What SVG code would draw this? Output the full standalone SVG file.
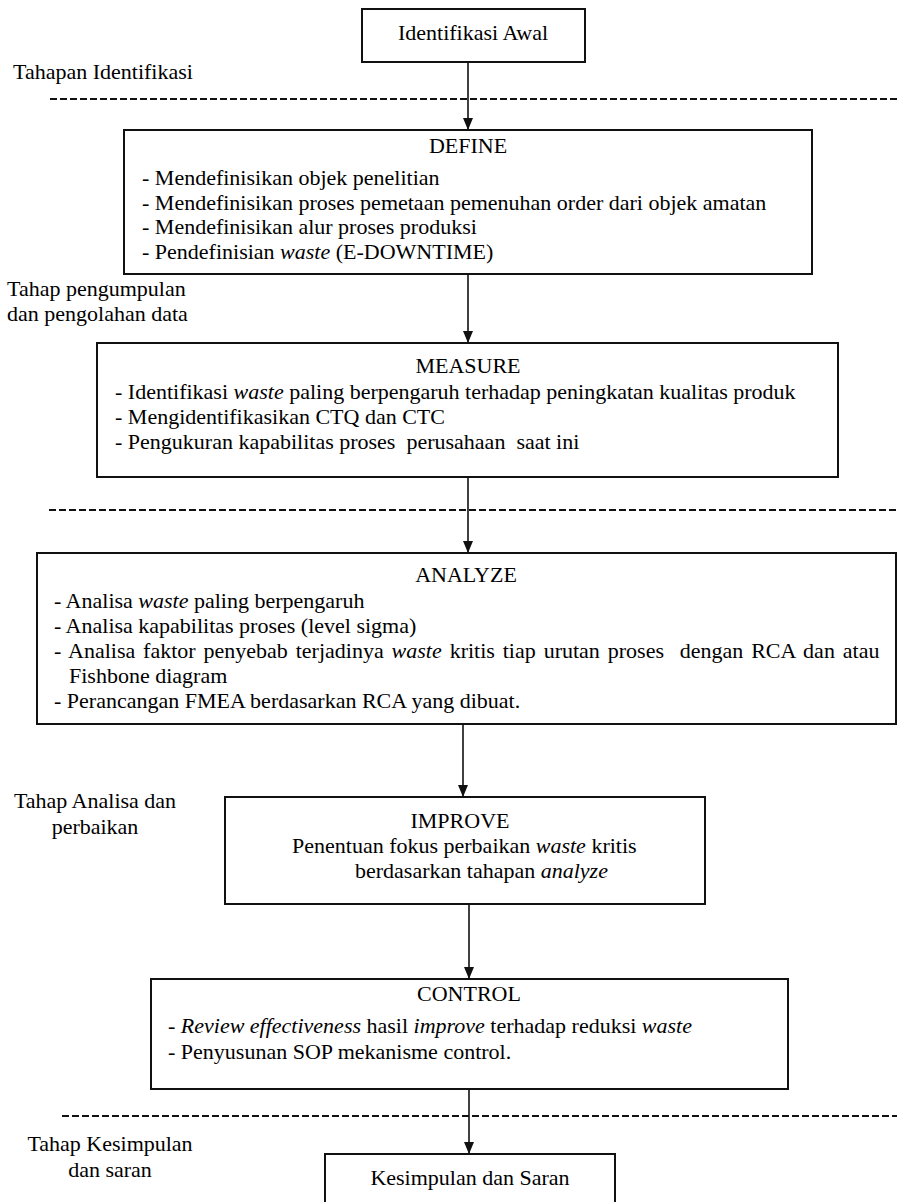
<svg xmlns="http://www.w3.org/2000/svg" width="897" height="1202" viewBox="0 0 897 1202">
<style>
text{font-family:"Liberation Serif","Times New Roman",serif;font-size:22px;fill:#000}
.box{fill:#fff;stroke:#111;stroke-width:2}
.dash{stroke:#111;stroke-width:2;stroke-dasharray:7 3;fill:none}
.conn{stroke:#111;stroke-width:1.6;fill:none;marker-end:url(#arr)}
.mid{text-anchor:middle}
.i{font-style:italic}
</style>
<defs>
<marker id="arr" viewBox="0 0 12 10" refX="12" refY="5" markerWidth="12" markerHeight="10" markerUnits="userSpaceOnUse" orient="auto">
<path d="M0,0 L12,5 L0,10 z" fill="#111"/>
</marker>
</defs>
<g id="separators">
<line class="dash" x1="50" y1="99" x2="897" y2="99"/>
<line class="dash" x1="49" y1="510" x2="897" y2="510"/>
<line class="dash" x1="62" y1="1116" x2="897" y2="1116"/>
</g>
<g id="stage-labels">
<text x="13" y="79">Tahapan Identifikasi</text>
<text x="7" y="296">Tahap pengumpulan</text>
<text x="7" y="321">dan pengolahan data</text>
<text class="mid" x="95" y="808">Tahap Analisa dan</text>
<text class="mid" x="95" y="834">perbaikan</text>
<text class="mid" x="110" y="1151">Tahap Kesimpulan</text>
<text class="mid" x="110" y="1177">dan saran</text>
</g>
<g id="connectors">
<line class="conn" x1="468" y1="62" x2="468" y2="130"/>
<line class="conn" x1="468" y1="274" x2="468" y2="343"/>
<line class="conn" x1="468" y1="477" x2="468" y2="553"/>
<line class="conn" x1="463" y1="724" x2="463" y2="797"/>
<line class="conn" x1="469" y1="904" x2="469" y2="979"/>
<line class="conn" x1="469" y1="1089" x2="469" y2="1154"/>
</g>
<g id="node-awal">
<rect class="box" x="362" y="9" width="223" height="53"/>
<text class="mid" x="473" y="40">Identifikasi Awal</text>
</g>
<g id="node-define">
<rect class="box" x="124" y="130" width="688" height="144"/>
<text class="mid" x="468" y="153">DEFINE</text>
<text x="142" y="185">- Mendefinisikan objek penelitian</text>
<text x="142" y="210">- Mendefinisikan proses pemetaan pemenuhan order dari objek amatan</text>
<text x="142" y="234">- Mendefinisikan alur proses produksi</text>
<text x="142" y="259">- Pendefinisian <tspan class="i">waste</tspan> (E-DOWNTIME)</text>
</g>
<g id="node-measure">
<rect class="box" x="97" y="343" width="741" height="134"/>
<text class="mid" x="468" y="373">MEASURE</text>
<text x="115" y="399">- Identifikasi <tspan class="i">waste</tspan> paling berpengaruh terhadap peningkatan kualitas produk</text>
<text x="115" y="424">- Mengidentifikasikan CTQ dan CTC</text>
<text x="115" y="449" xml:space="preserve">- Pengukuran kapabilitas proses  perusahaan  saat ini</text>
</g>
<g id="node-analyze">
<rect class="box" x="37" y="553" width="859" height="171"/>
<text class="mid" x="466" y="582">ANALYZE</text>
<text x="54" y="608">- Analisa <tspan class="i">waste</tspan> paling berpengaruh</text>
<text x="54" y="633">- Analisa kapabilitas proses (level sigma)</text>
<text x="54" y="658" xml:space="preserve" word-spacing="2.4">- Analisa faktor penyebab terjadinya <tspan class="i">waste</tspan> kritis tiap urutan proses  dengan RCA dan atau</text>
<text x="69" y="683">Fishbone diagram</text>
<text x="54" y="708">- Perancangan FMEA berdasarkan RCA yang dibuat.</text>
</g>
<g id="node-improve">
<rect class="box" x="225" y="797" width="480" height="107"/>
<text class="mid" x="460" y="828">IMPROVE</text>
<text x="292" y="853">Penentuan fokus perbaikan <tspan class="i">waste</tspan> kritis</text>
<text x="355" y="878">berdasarkan tahapan <tspan class="i">analyze</tspan></text>
</g>
<g id="node-control">
<rect class="box" x="151" y="979" width="637" height="110"/>
<text class="mid" x="469" y="1001">CONTROL</text>
<text x="168" y="1033">- <tspan class="i">Review effectiveness</tspan> hasil <tspan class="i">improve</tspan> terhadap reduksi <tspan class="i">waste</tspan></text>
<text x="168" y="1059">- Penyusunan SOP mekanisme control.</text>
</g>
<g id="node-kesimpulan">
<rect class="box" x="325" y="1154" width="290" height="60"/>
<text class="mid" x="470" y="1185">Kesimpulan dan Saran</text>
</g>
</svg>
